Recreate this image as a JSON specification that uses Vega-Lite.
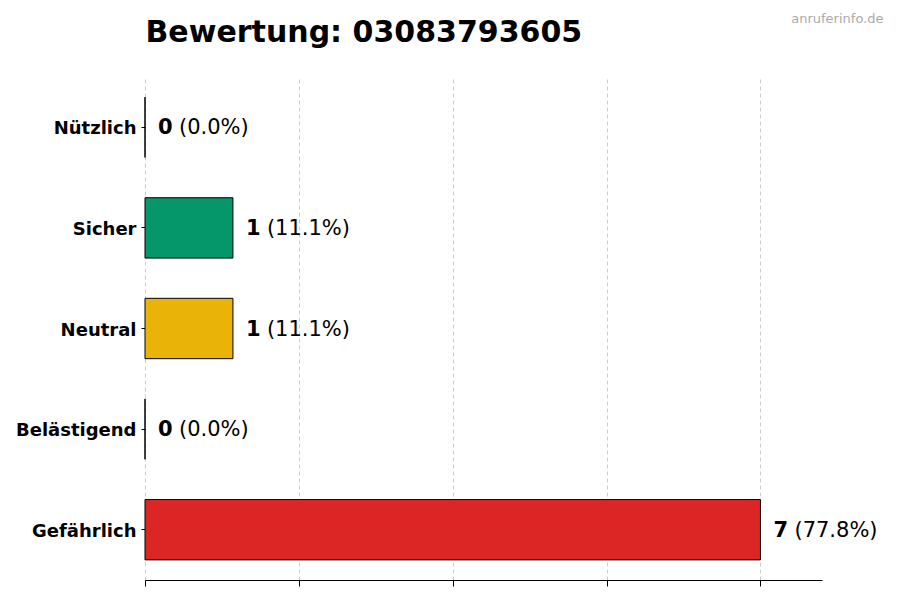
{
  "$schema": "https://vega.github.io/schema/vega-lite/v6.json",
  "autosize": {"type": "none"},
  "padding": {"left": 145, "top": 77, "right": 78, "bottom": 20},
  "width": 677,
  "height": 503,
  "background": "white",
  "data": {
    "values": [
      {"kat": "Nützlich", "n": 0, "pct": "(0.0%)"},
      {"kat": "Sicher", "n": 1, "pct": "(11.1%)"},
      {"kat": "Neutral", "n": 1, "pct": "(11.1%)"},
      {"kat": "Belästigend", "n": 0, "pct": "(0.0%)"},
      {"kat": "Gefährlich", "n": 7, "pct": "(77.8%)"}
    ]
  },
  "layer": [
    {
      "mark": {"type": "bar", "stroke": "black", "strokeWidth": 1},
      "encoding": {
        "y": {
          "field": "kat",
          "type": "nominal",
          "sort": ["Nützlich", "Sicher", "Neutral", "Belästigend", "Gefährlich"],
          "scale": {"paddingInner": 0.4, "paddingOuter": 0.2},
          "axis": {
            "title": null,
            "domain": false,
            "ticks": true,
            "tickSize": 4,
            "tickColor": "black",
            "labelPadding": 5,
            "labelOffset": 2,
            "labelFont": "DejaVu Sans",
            "labelFontSize": 18,
            "labelFontWeight": "bold",
            "labelColor": "black",
            "grid": false
          }
        },
        "x": {
          "field": "n",
          "type": "quantitative",
          "scale": {"domain": [0, 7.7], "nice": false},
          "axis": {
            "title": null,
            "values": [0, 1.75, 3.5, 5.25, 7],
            "labels": false,
            "domainColor": "black",
            "tickColor": "black",
            "tickSize": 6,
            "grid": true,
            "gridColor": "#cccccc",
            "gridDash": [4, 3]
          }
        },
        "color": {
          "field": "kat",
          "type": "nominal",
          "scale": {
            "domain": ["Nützlich", "Sicher", "Neutral", "Belästigend", "Gefährlich"],
            "range": ["#2563eb", "#059669", "#eab308", "#f97316", "#dc2626"]
          },
          "legend": null
        }
      }
    },
    {
      "mark": {"type": "text", "align": "left", "baseline": "middle", "dx": 13, "dy": 1, "font": "DejaVu Sans", "fontSize": 21, "fontWeight": "bold", "color": "black"},
      "encoding": {
        "y": {
          "field": "kat",
          "type": "nominal",
          "sort": ["Nützlich", "Sicher", "Neutral", "Belästigend", "Gefährlich"],
          "axis": null
        },
        "x": {
          "field": "n",
          "type": "quantitative",
          "axis": {
            "orient": "top",
            "domain": false,
            "ticks": false,
            "labels": false,
            "grid": false,
            "title": "Bewertung: 03083793605",
            "titleFont": "DejaVu Sans",
            "titleFontSize": 30,
            "titleFontWeight": "bold",
            "titleColor": "black",
            "titleAnchor": "start",
            "titleAlign": "left",
            "titleBaseline": "alphabetic",
            "titleX": 0,
            "titleY": -36
          }
        },
        "text": {"field": "n", "type": "quantitative"}
      }
    },
    {
      "mark": {"type": "text", "align": "left", "baseline": "middle", "dx": 34, "dy": 1, "font": "DejaVu Sans", "fontSize": 21, "color": "black"},
      "encoding": {
        "y": {
          "field": "kat",
          "type": "nominal",
          "sort": ["Nützlich", "Sicher", "Neutral", "Belästigend", "Gefährlich"],
          "axis": {
            "orient": "right",
            "domain": false,
            "ticks": false,
            "labels": false,
            "grid": false,
            "title": "anruferinfo.de",
            "titleAngle": 0,
            "titleFont": "DejaVu Sans",
            "titleFontSize": 13,
            "titleFontWeight": "normal",
            "titleColor": "#aaaaaa",
            "titleAlign": "right",
            "titleBaseline": "alphabetic",
            "titleX": 61,
            "titleY": -55
          }
        },
        "x": {"field": "n", "type": "quantitative", "axis": null},
        "text": {"field": "pct"}
      }
    }
  ],
  "resolve": {"axis": {"x": "independent", "y": "independent"}},
  "config": {"view": {"stroke": null}}
}
